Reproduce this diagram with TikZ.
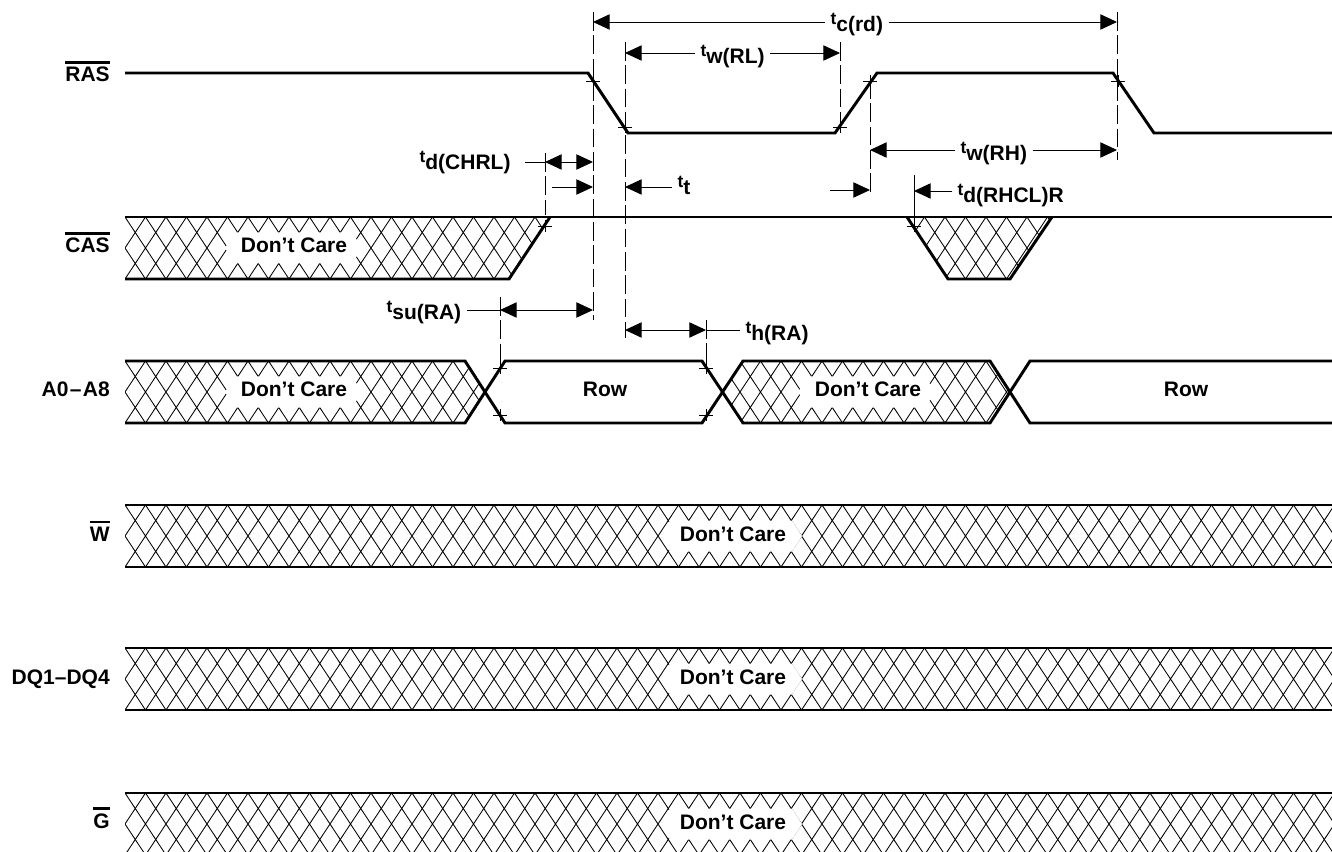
\documentclass[tikz,border=0pt]{standalone}
\usepackage{fontspec}
\setmainfont{Liberation Sans}
\usetikzlibrary{arrows.meta}
\newcommand{\sigbar}[1]{\vbox{\hrule height 2pt\kern 2.5pt\hbox{#1}}}
\newcommand{\tpar}[1]{\raisebox{5.5pt}{\fontsize{13}{14}\selectfont t}#1}
\newcommand{\latt}[1]{%
  \foreach \n in {-1,...,60}
    \draw[hatch] ({125+20.5*(\n-1)},{#1+62}) -- ({125+20.5*(\n+1)},{#1})
                 ({125+20.5*(\n-1)},{#1}) -- ({125+20.5*(\n+1)},{#1+62});}
\newcommand{\dcblank}[3]{%
  \fill[white] (#1,{#3+31}) -- ({#1+10},{#3+15.5}) -- ({#2-10},{#3+15.5})
    -- (#2,{#3+31}) -- ({#2-10},{#3+46.5}) -- ({#1+10},{#3+46.5}) -- cycle;}
\newcommand{\edgemark}[2]{\draw[dim] ({#1-7},#2) -- ({#1+7},#2) (#1,{#2-6}) -- (#1,{#2+6});}
\begin{document}
\begin{tikzpicture}[x=0.75pt,y=-0.75pt,
  every node/.style={font=\fontsize{15.75}{18}\selectfont\bfseries},
  sig/.style={line width=2.2pt,line join=miter},
  hatch/.style={line width=0.65pt},
  dim/.style={line width=0.7pt},
  guide/.style={line width=0.7pt,dash pattern=on 14pt off 3.5pt},
  >={Triangle[length=12.5pt,width=11.5pt]},
  siglbl/.style={anchor=base east,inner sep=0pt},
  tlbl/.style={anchor=base west,inner xsep=4pt,inner ysep=0pt},
  dclbl/.style={anchor=base,inner sep=0pt}]
\useasboundingbox (0,0) rectangle (1332,852);

\node[siglbl] (ras) at (110,82) {\sigbar{RAS}};
\node[siglbl] (cas) at (110,253) {\sigbar{CAS}};
\node[siglbl] (addr) at (110,397) {A0\kern1pt–\kern1pt A8};
\node[siglbl] (w) at (110,541) {\sigbar{W}};
\node[siglbl] (dq) at (110,684) {DQ1–DQ4};
\node[siglbl] (g) at (110,828) {\sigbar{G}};

\begin{scope}
\clip (125,217) -- (550,217) -- (509,279) -- (125,279) -- cycle;
\latt{217}
\dcblank{225}{362}{217}
\end{scope}
\begin{scope}
\clip (907,217) -- (1052,217) -- (1010,279) -- (948,279) -- cycle;
\latt{217}
\end{scope}
\begin{scope}
\clip (125,361) -- (465,361) -- (485,392) -- (465,423) -- (125,423) -- cycle;
\latt{361}
\dcblank{225}{362}{361}
\end{scope}
\begin{scope}
\clip (722,392) -- (743,361) -- (990,361) -- (1010,392) -- (990,423) -- (743,423) -- cycle;
\latt{361}
\dcblank{798}{935}{361}
\end{scope}
\begin{scope}
\clip (125,505) rectangle (1332,567);
\latt{505}
\dcblank{660}{802}{505}
\end{scope}
\begin{scope}
\clip (125,648) rectangle (1332,710);
\latt{648}
\dcblank{660}{802}{648}
\end{scope}
\begin{scope}
\clip (125,793) rectangle (1332,855);
\latt{793}
\dcblank{660}{802}{793}
\end{scope}

\node[dclbl] (dccas) at (294,253) {Don’t Care};
\node[dclbl] (dca1) at (294,397) {Don’t Care};
\node[dclbl] (dca2) at (868,397) {Don’t Care};
\node[dclbl] (row1) at (605,397) {Row};
\node[dclbl] (row2) at (1186,397) {Row};
\node[dclbl] (dcw) at (733,541) {Don’t Care};
\node[dclbl] (dcdq) at (733,684) {Don’t Care};
\node[dclbl] (dcg) at (733,829) {Don’t Care};

\draw[sig] (125,73) -- (588,73) -- (628,133) -- (835,133) -- (877,73) -- (1113,73) -- (1154,133) -- (1332,133);
\draw[sig] (125,217) -- (1332,217);
\draw[sig] (125,279) -- (509,279) -- (550,217);
\draw[sig] (907,217) -- (948,279) -- (1010,279) -- (1052,217);
\draw[sig] (125,361) -- (465,361) -- (505,423) -- (702,423) -- (743,361) -- (990,361) -- (1030,423) -- (1332,423);
\draw[sig] (125,423) -- (465,423) -- (505,361) -- (702,361) -- (743,423) -- (990,423) -- (1030,361) -- (1332,361);
\draw[sig] (125,505) -- (1332,505) (125,567) -- (1332,567);
\draw[sig] (125,648) -- (1332,648) (125,710) -- (1332,710);
\draw[sig] (125,793) -- (1332,793) (125,855) -- (1332,855);

\draw[guide] (593,12) -- (593,320);
\draw[guide] (625,42) -- (625,338);
\draw[guide] (840,42) -- (840,130);
\draw[guide] (870,80) -- (870,195);
\draw[guide] (1117,12) -- (1117,160);
\draw[guide] (545,153) -- (545,215);
\draw[dim] (914,175) -- (914,232);
\draw[guide] (500,297) -- (500,372);
\draw[guide] (706,320) -- (706,372);

\edgemark{593}{81}
\edgemark{625}{127}
\edgemark{840}{127}
\edgemark{870}{81}
\edgemark{1118}{81}
\edgemark{545}{226}
\edgemark{914}{226}
\edgemark{500}{368}
\edgemark{500}{415}
\edgemark{706}{368}
\edgemark{706}{415}

\coordinate (tcL) at (593,22);
\coordinate (tcR) at (1117,22);
\node[tlbl] (tcrd) at (825,32) {\tpar{c(rd)}};
\draw[dim,->] (tcrd.west |- tcL) -- (tcL);
\draw[dim,->] (tcrd.east |- tcR) -- (tcR);

\coordinate (rlL) at (625,53);
\coordinate (rlR) at (840,53);
\node[tlbl] (twrl) at (695,64) {\tpar{w(RL)}};
\draw[dim,->] (twrl.west |- rlL) -- (rlL);
\draw[dim,->] (twrl.east |- rlR) -- (rlR);

\coordinate (rhL) at (870,150);
\coordinate (rhR) at (1117,150);
\node[tlbl] (twrh) at (955,161) {\tpar{w(RH)}};
\draw[dim,->] (twrh.west |- rhL) -- (rhL);
\draw[dim,->] (twrh.east |- rhR) -- (rhR);

\coordinate (chT) at (525,162);
\coordinate (chL) at (545,162);
\coordinate (chR) at (593,162);
\node[tlbl] (tdchrl) at (414,170) {\tpar{d(CHRL)}};
\draw[dim] (chT) -- (chL);
\draw[dim,<->] (chL) -- (chR);

\coordinate (ttA) at (552,187);
\coordinate (ttB) at (593,187);
\coordinate (ttC) at (625,187);
\node[tlbl] (tt) at (672,195) {\tpar{t}};
\draw[dim,->] (ttA) -- (ttB);
\draw[dim,->] (tt.west |- ttC) -- (ttC);

\coordinate (ttD) at (830,190);
\coordinate (ttE) at (870,190);
\draw[dim,->] (ttD) -- (ttE);

\coordinate (rcL) at (914,191);
\node[tlbl] (tdrhcl) at (952,203) {\tpar{d(RHCL)R}};
\draw[dim,->] (tdrhcl.west |- rcL) -- (rcL);

\coordinate (suL) at (500,310);
\coordinate (suR) at (593,310);
\node[tlbl] (tsura) at (381,320) {\tpar{su(RA)}};
\draw[dim] (tsura.east |- suL) -- (suL);
\draw[dim,<->] (suL) -- (suR);

\coordinate (hL) at (625,330);
\coordinate (hR) at (706,330);
\node[tlbl] (thra) at (740,341) {\tpar{h(RA)}};
\draw[dim,<->] (hL) -- (hR);
\draw[dim] (hR) -- (thra.west |- hR);
\end{tikzpicture}
\end{document}
